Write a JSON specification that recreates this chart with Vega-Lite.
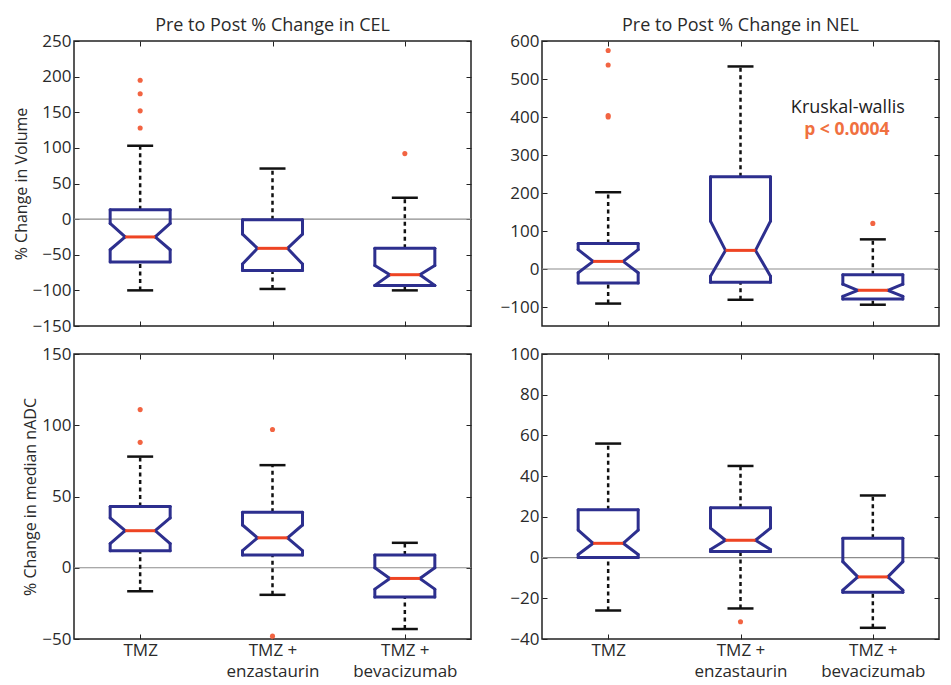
{
"$schema":"https://vega.github.io/schema/vega-lite/v6.json",
"background":"white",
"padding":{"left":12,"top":16,"right":5,"bottom":5},
"datasets":{
"boxes":[
{"p":"CEL vol","g":"TMZ","lo":-100,"q1":-60,"nlo":-43,"med":-25,"nhi":-6,"q3":13,"hi":103},
{"p":"CEL vol","g":"TMZ + enzastaurin","lo":-98,"q1":-72,"nlo":-63,"med":-41,"nhi":-21,"q3":-1,"hi":71},
{"p":"CEL vol","g":"TMZ + bevacizumab","lo":-100,"q1":-93,"nlo":-93,"med":-78,"nhi":-65,"q3":-41,"hi":30},
{"p":"NEL vol","g":"TMZ","lo":-91,"q1":-37,"nlo":-10,"med":20,"nhi":51,"q3":67,"hi":202},
{"p":"NEL vol","g":"TMZ + enzastaurin","lo":-81,"q1":-35,"nlo":-19,"med":49,"nhi":126,"q3":243,"hi":533},
{"p":"NEL vol","g":"TMZ + bevacizumab","lo":-94,"q1":-79,"nlo":-72,"med":-56,"nhi":-40,"q3":-15,"hi":78},
{"p":"CEL adc","g":"TMZ","lo":-16.5,"q1":12,"nlo":17,"med":26,"nhi":35,"q3":43,"hi":78},
{"p":"CEL adc","g":"TMZ + enzastaurin","lo":-19,"q1":9,"nlo":12,"med":21,"nhi":30,"q3":39,"hi":72},
{"p":"CEL adc","g":"TMZ + bevacizumab","lo":-43,"q1":-20.5,"nlo":-15,"med":-7.5,"nhi":0,"q3":9,"hi":17.5},
{"p":"NEL adc","g":"TMZ","lo":-26,"q1":0,"nlo":1.5,"med":7,"nhi":13.5,"q3":23.5,"hi":56},
{"p":"NEL adc","g":"TMZ + enzastaurin","lo":-25,"q1":3,"nlo":4,"med":8.5,"nhi":14.5,"q3":24.5,"hi":45},
{"p":"NEL adc","g":"TMZ + bevacizumab","lo":-34.5,"q1":-17,"nlo":-16,"med":-9.5,"nhi":-2,"q3":9.5,"hi":30.5}
],
"outliers":[
{"p":"CEL vol","g":"TMZ","v":195},{"p":"CEL vol","g":"TMZ","v":176},{"p":"CEL vol","g":"TMZ","v":152},{"p":"CEL vol","g":"TMZ","v":128},{"p":"CEL vol","g":"TMZ + bevacizumab","v":92},
{"p":"NEL vol","g":"TMZ","v":575},{"p":"NEL vol","g":"TMZ","v":537},{"p":"NEL vol","g":"TMZ","v":404},{"p":"NEL vol","g":"TMZ","v":400},{"p":"NEL vol","g":"TMZ + bevacizumab","v":120},
{"p":"CEL adc","g":"TMZ","v":111},{"p":"CEL adc","g":"TMZ","v":88},{"p":"CEL adc","g":"TMZ + enzastaurin","v":97},{"p":"CEL adc","g":"TMZ + enzastaurin","v":-48},
{"p":"NEL adc","g":"TMZ + enzastaurin","v":-31.5}
]
},
"bounds":"flush",
"columns":2,
"spacing":{"row":28,"column":71},
"concat":[
{"width":397,"height":285,"title":{"text":"Pre to Post % Change in CEL"},
"data":{"name":"boxes"},"transform":[{"filter":"datum.p == 'CEL vol'"}],
"resolve":{"axis":{"x":"independent","y":"independent"}},
"layer":[
{"transform":[{"aggregate":[{"op":"count","as":"n"}]}],"mark":{"type":"rule","color":"#8c8c8c","strokeWidth":1.2},"encoding":{"y":{"datum":0,"type":"quantitative","scale":{"domain":[-150,250],"nice":false,"zero":false},"axis":null}}},
{"mark":{"type":"rule","color":"#111111","strokeWidth":2.5,"strokeDash":[4,3.5]},"encoding":{"x":{"field":"g","type":"nominal","scale":{"type":"point","padding":0.5,"domain":["TMZ","TMZ + enzastaurin","TMZ + bevacizumab"]},"axis":{"orient":"bottom","title":null,"labels":false}},"y":{"field":"q3","type":"quantitative","scale":{"domain":[-150,250],"nice":false,"zero":false},"axis":{"orient":"left","title":"% Change in Volume","values":[-150,-100,-50,0,50,100,150,200,250]}},"y2":{"field":"hi"}}},
{"mark":{"type":"rule","color":"#111111","strokeWidth":2.5,"strokeDash":[4,3.5]},"encoding":{"x":{"field":"g","type":"nominal","scale":{"type":"point","padding":0.5,"domain":["TMZ","TMZ + enzastaurin","TMZ + bevacizumab"]},"axis":null},"y":{"field":"lo","type":"quantitative","scale":{"domain":[-150,250],"nice":false,"zero":false},"axis":null},"y2":{"field":"q1"}}},
{"transform":[{"fold":["lo","hi"],"as":["k","v"]}],"mark":{"type":"rule","color":"#111111","strokeWidth":2.5,"xOffset":-13,"x2Offset":13},"encoding":{"x":{"field":"g","type":"nominal","scale":{"type":"point","padding":0.5,"domain":["TMZ","TMZ + enzastaurin","TMZ + bevacizumab"]},"axis":{"orient":"top","title":null,"labels":false}},"x2":{"field":"g"},"y":{"field":"v","type":"quantitative","scale":{"domain":[-150,250],"nice":false,"zero":false},"axis":{"orient":"right","title":null,"labels":false,"values":[-150,-100,-50,0,50,100,150,200,250]}}}},
{"transform":[{"fold":["q1","q3"],"as":["k","v"]}],"mark":{"type":"rule","color":"#2d2f8e","strokeWidth":3,"strokeCap":"round","xOffset":-30,"x2Offset":30},"encoding":{"x":{"field":"g","type":"nominal","scale":{"type":"point","padding":0.5,"domain":["TMZ","TMZ + enzastaurin","TMZ + bevacizumab"]},"axis":null},"x2":{"field":"g"},"y":{"field":"v","type":"quantitative","scale":{"domain":[-150,250],"nice":false,"zero":false},"axis":null}}},
{"mark":{"type":"rule","color":"#2d2f8e","strokeWidth":3,"strokeCap":"round","xOffset":-30},"encoding":{"x":{"field":"g","type":"nominal","scale":{"type":"point","padding":0.5,"domain":["TMZ","TMZ + enzastaurin","TMZ + bevacizumab"]},"axis":null},"y":{"field":"q3","type":"quantitative","scale":{"domain":[-150,250],"nice":false,"zero":false},"axis":null},"y2":{"field":"nhi"}}},
{"mark":{"type":"rule","color":"#2d2f8e","strokeWidth":3,"strokeCap":"round","xOffset":30},"encoding":{"x":{"field":"g","type":"nominal","scale":{"type":"point","padding":0.5,"domain":["TMZ","TMZ + enzastaurin","TMZ + bevacizumab"]},"axis":null},"y":{"field":"q3","type":"quantitative","scale":{"domain":[-150,250],"nice":false,"zero":false},"axis":null},"y2":{"field":"nhi"}}},
{"mark":{"type":"rule","color":"#2d2f8e","strokeWidth":3,"strokeCap":"round","xOffset":-30},"encoding":{"x":{"field":"g","type":"nominal","scale":{"type":"point","padding":0.5,"domain":["TMZ","TMZ + enzastaurin","TMZ + bevacizumab"]},"axis":null},"y":{"field":"nlo","type":"quantitative","scale":{"domain":[-150,250],"nice":false,"zero":false},"axis":null},"y2":{"field":"q1"}}},
{"mark":{"type":"rule","color":"#2d2f8e","strokeWidth":3,"strokeCap":"round","xOffset":30},"encoding":{"x":{"field":"g","type":"nominal","scale":{"type":"point","padding":0.5,"domain":["TMZ","TMZ + enzastaurin","TMZ + bevacizumab"]},"axis":null},"y":{"field":"nlo","type":"quantitative","scale":{"domain":[-150,250],"nice":false,"zero":false},"axis":null},"y2":{"field":"q1"}}},
{"transform":[{"fold":["nhi","nlo"],"as":["k","v"]}],"mark":{"type":"rule","color":"#2d2f8e","strokeWidth":3,"strokeCap":"round","xOffset":-30,"x2Offset":-15},"encoding":{"x":{"field":"g","type":"nominal","scale":{"type":"point","padding":0.5,"domain":["TMZ","TMZ + enzastaurin","TMZ + bevacizumab"]},"axis":null},"x2":{"field":"g"},"y":{"field":"v","type":"quantitative","scale":{"domain":[-150,250],"nice":false,"zero":false},"axis":null},"y2":{"field":"med"}}},
{"transform":[{"fold":["nhi","nlo"],"as":["k","v"]}],"mark":{"type":"rule","color":"#2d2f8e","strokeWidth":3,"strokeCap":"round","xOffset":30,"x2Offset":15},"encoding":{"x":{"field":"g","type":"nominal","scale":{"type":"point","padding":0.5,"domain":["TMZ","TMZ + enzastaurin","TMZ + bevacizumab"]},"axis":null},"x2":{"field":"g"},"y":{"field":"v","type":"quantitative","scale":{"domain":[-150,250],"nice":false,"zero":false},"axis":null},"y2":{"field":"med"}}},
{"mark":{"type":"rule","color":"#ee4423","strokeWidth":3,"xOffset":-15,"x2Offset":15},"encoding":{"x":{"field":"g","type":"nominal","scale":{"type":"point","padding":0.5,"domain":["TMZ","TMZ + enzastaurin","TMZ + bevacizumab"]},"axis":null},"x2":{"field":"g"},"y":{"field":"med","type":"quantitative","scale":{"domain":[-150,250],"nice":false,"zero":false},"axis":null}}},
{"data":{"name":"outliers"},"transform":[{"filter":"datum.p == 'CEL vol'"}],"mark":{"type":"point","shape":"circle","filled":true,"size":26,"color":"#f26442","opacity":1},"encoding":{"x":{"field":"g","type":"nominal","scale":{"type":"point","padding":0.5,"domain":["TMZ","TMZ + enzastaurin","TMZ + bevacizumab"]},"axis":null},"y":{"field":"v","type":"quantitative","scale":{"domain":[-150,250],"nice":false,"zero":false},"axis":null}}}
]},
{"width":397,"height":285,"title":{"text":"Pre to Post % Change in NEL"},
"data":{"name":"boxes"},"transform":[{"filter":"datum.p == 'NEL vol'"}],
"resolve":{"axis":{"x":"independent","y":"independent"}},
"layer":[
{"transform":[{"aggregate":[{"op":"count","as":"n"}]}],"mark":{"type":"rule","color":"#8c8c8c","strokeWidth":1.2},"encoding":{"y":{"datum":0,"type":"quantitative","scale":{"domain":[-150,600],"nice":false,"zero":false},"axis":null}}},
{"mark":{"type":"rule","color":"#111111","strokeWidth":2.5,"strokeDash":[4,3.5]},"encoding":{"x":{"field":"g","type":"nominal","scale":{"type":"point","padding":0.5,"domain":["TMZ","TMZ + enzastaurin","TMZ + bevacizumab"]},"axis":{"orient":"bottom","title":null,"labels":false}},"y":{"field":"q3","type":"quantitative","scale":{"domain":[-150,600],"nice":false,"zero":false},"axis":{"orient":"left","title":null,"values":[-100,0,100,200,300,400,500,600]}},"y2":{"field":"hi"}}},
{"mark":{"type":"rule","color":"#111111","strokeWidth":2.5,"strokeDash":[4,3.5]},"encoding":{"x":{"field":"g","type":"nominal","scale":{"type":"point","padding":0.5,"domain":["TMZ","TMZ + enzastaurin","TMZ + bevacizumab"]},"axis":null},"y":{"field":"lo","type":"quantitative","scale":{"domain":[-150,600],"nice":false,"zero":false},"axis":null},"y2":{"field":"q1"}}},
{"transform":[{"fold":["lo","hi"],"as":["k","v"]}],"mark":{"type":"rule","color":"#111111","strokeWidth":2.5,"xOffset":-13,"x2Offset":13},"encoding":{"x":{"field":"g","type":"nominal","scale":{"type":"point","padding":0.5,"domain":["TMZ","TMZ + enzastaurin","TMZ + bevacizumab"]},"axis":{"orient":"top","title":null,"labels":false}},"x2":{"field":"g"},"y":{"field":"v","type":"quantitative","scale":{"domain":[-150,600],"nice":false,"zero":false},"axis":{"orient":"right","title":null,"labels":false,"values":[-100,0,100,200,300,400,500,600]}}}},
{"transform":[{"fold":["q1","q3"],"as":["k","v"]}],"mark":{"type":"rule","color":"#2d2f8e","strokeWidth":3,"strokeCap":"round","xOffset":-30,"x2Offset":30},"encoding":{"x":{"field":"g","type":"nominal","scale":{"type":"point","padding":0.5,"domain":["TMZ","TMZ + enzastaurin","TMZ + bevacizumab"]},"axis":null},"x2":{"field":"g"},"y":{"field":"v","type":"quantitative","scale":{"domain":[-150,600],"nice":false,"zero":false},"axis":null}}},
{"mark":{"type":"rule","color":"#2d2f8e","strokeWidth":3,"strokeCap":"round","xOffset":-30},"encoding":{"x":{"field":"g","type":"nominal","scale":{"type":"point","padding":0.5,"domain":["TMZ","TMZ + enzastaurin","TMZ + bevacizumab"]},"axis":null},"y":{"field":"q3","type":"quantitative","scale":{"domain":[-150,600],"nice":false,"zero":false},"axis":null},"y2":{"field":"nhi"}}},
{"mark":{"type":"rule","color":"#2d2f8e","strokeWidth":3,"strokeCap":"round","xOffset":30},"encoding":{"x":{"field":"g","type":"nominal","scale":{"type":"point","padding":0.5,"domain":["TMZ","TMZ + enzastaurin","TMZ + bevacizumab"]},"axis":null},"y":{"field":"q3","type":"quantitative","scale":{"domain":[-150,600],"nice":false,"zero":false},"axis":null},"y2":{"field":"nhi"}}},
{"mark":{"type":"rule","color":"#2d2f8e","strokeWidth":3,"strokeCap":"round","xOffset":-30},"encoding":{"x":{"field":"g","type":"nominal","scale":{"type":"point","padding":0.5,"domain":["TMZ","TMZ + enzastaurin","TMZ + bevacizumab"]},"axis":null},"y":{"field":"nlo","type":"quantitative","scale":{"domain":[-150,600],"nice":false,"zero":false},"axis":null},"y2":{"field":"q1"}}},
{"mark":{"type":"rule","color":"#2d2f8e","strokeWidth":3,"strokeCap":"round","xOffset":30},"encoding":{"x":{"field":"g","type":"nominal","scale":{"type":"point","padding":0.5,"domain":["TMZ","TMZ + enzastaurin","TMZ + bevacizumab"]},"axis":null},"y":{"field":"nlo","type":"quantitative","scale":{"domain":[-150,600],"nice":false,"zero":false},"axis":null},"y2":{"field":"q1"}}},
{"transform":[{"fold":["nhi","nlo"],"as":["k","v"]}],"mark":{"type":"rule","color":"#2d2f8e","strokeWidth":3,"strokeCap":"round","xOffset":-30,"x2Offset":-15},"encoding":{"x":{"field":"g","type":"nominal","scale":{"type":"point","padding":0.5,"domain":["TMZ","TMZ + enzastaurin","TMZ + bevacizumab"]},"axis":null},"x2":{"field":"g"},"y":{"field":"v","type":"quantitative","scale":{"domain":[-150,600],"nice":false,"zero":false},"axis":null},"y2":{"field":"med"}}},
{"transform":[{"fold":["nhi","nlo"],"as":["k","v"]}],"mark":{"type":"rule","color":"#2d2f8e","strokeWidth":3,"strokeCap":"round","xOffset":30,"x2Offset":15},"encoding":{"x":{"field":"g","type":"nominal","scale":{"type":"point","padding":0.5,"domain":["TMZ","TMZ + enzastaurin","TMZ + bevacizumab"]},"axis":null},"x2":{"field":"g"},"y":{"field":"v","type":"quantitative","scale":{"domain":[-150,600],"nice":false,"zero":false},"axis":null},"y2":{"field":"med"}}},
{"mark":{"type":"rule","color":"#ee4423","strokeWidth":3,"xOffset":-15,"x2Offset":15},"encoding":{"x":{"field":"g","type":"nominal","scale":{"type":"point","padding":0.5,"domain":["TMZ","TMZ + enzastaurin","TMZ + bevacizumab"]},"axis":null},"x2":{"field":"g"},"y":{"field":"med","type":"quantitative","scale":{"domain":[-150,600],"nice":false,"zero":false},"axis":null}}},
{"data":{"name":"outliers"},"transform":[{"filter":"datum.p == 'NEL vol'"}],"mark":{"type":"point","shape":"circle","filled":true,"size":26,"color":"#f26442","opacity":1},"encoding":{"x":{"field":"g","type":"nominal","scale":{"type":"point","padding":0.5,"domain":["TMZ","TMZ + enzastaurin","TMZ + bevacizumab"]},"axis":null},"y":{"field":"v","type":"quantitative","scale":{"domain":[-150,600],"nice":false,"zero":false},"axis":null}}},
{"transform":[{"aggregate":[{"op":"count","as":"n"}]}],"mark":{"type":"text","font":"Open Sans","fontSize":18,"color":"#222222","dx":-25},"encoding":{"x":{"datum":"TMZ + bevacizumab","type":"nominal","scale":{"type":"point","padding":0.5,"domain":["TMZ","TMZ + enzastaurin","TMZ + bevacizumab"]},"axis":null},"y":{"datum":423,"type":"quantitative","scale":{"domain":[-150,600],"nice":false,"zero":false},"axis":null},"text":{"value":"Kruskal-wallis"}}},
{"transform":[{"aggregate":[{"op":"count","as":"n"}]}],"mark":{"type":"text","font":"Open Sans","fontSize":17.5,"fontWeight":"bold","color":"#f0703f","dx":-26},"encoding":{"x":{"datum":"TMZ + bevacizumab","type":"nominal","scale":{"type":"point","padding":0.5,"domain":["TMZ","TMZ + enzastaurin","TMZ + bevacizumab"]},"axis":null},"y":{"datum":365,"type":"quantitative","scale":{"domain":[-150,600],"nice":false,"zero":false},"axis":null},"text":{"value":"p < 0.0004"}}}
]},
{"width":397,"height":285,
"data":{"name":"boxes"},"transform":[{"filter":"datum.p == 'CEL adc'"}],
"resolve":{"axis":{"x":"independent","y":"independent"}},
"layer":[
{"transform":[{"aggregate":[{"op":"count","as":"n"}]}],"mark":{"type":"rule","color":"#8c8c8c","strokeWidth":1.2},"encoding":{"y":{"datum":0,"type":"quantitative","scale":{"domain":[-50,150],"nice":false,"zero":false},"axis":null}}},
{"mark":{"type":"rule","color":"#111111","strokeWidth":2.5,"strokeDash":[4,3.5]},"encoding":{"x":{"field":"g","type":"nominal","scale":{"type":"point","padding":0.5,"domain":["TMZ","TMZ + enzastaurin","TMZ + bevacizumab"]},"axis":{"orient":"bottom","title":null,"labelAngle":0,"labelExpr":"datum.value == 'TMZ' ? 'TMZ' : ['TMZ +', slice(datum.value, 6)]"}},"y":{"field":"q3","type":"quantitative","scale":{"domain":[-50,150],"nice":false,"zero":false},"axis":{"orient":"left","title":"% Change in median nADC","values":[-50,0,50,100,150]}},"y2":{"field":"hi"}}},
{"mark":{"type":"rule","color":"#111111","strokeWidth":2.5,"strokeDash":[4,3.5]},"encoding":{"x":{"field":"g","type":"nominal","scale":{"type":"point","padding":0.5,"domain":["TMZ","TMZ + enzastaurin","TMZ + bevacizumab"]},"axis":null},"y":{"field":"lo","type":"quantitative","scale":{"domain":[-50,150],"nice":false,"zero":false},"axis":null},"y2":{"field":"q1"}}},
{"transform":[{"fold":["lo","hi"],"as":["k","v"]}],"mark":{"type":"rule","color":"#111111","strokeWidth":2.5,"xOffset":-13,"x2Offset":13},"encoding":{"x":{"field":"g","type":"nominal","scale":{"type":"point","padding":0.5,"domain":["TMZ","TMZ + enzastaurin","TMZ + bevacizumab"]},"axis":{"orient":"top","title":null,"labels":false}},"x2":{"field":"g"},"y":{"field":"v","type":"quantitative","scale":{"domain":[-50,150],"nice":false,"zero":false},"axis":{"orient":"right","title":null,"labels":false,"values":[-50,0,50,100,150]}}}},
{"transform":[{"fold":["q1","q3"],"as":["k","v"]}],"mark":{"type":"rule","color":"#2d2f8e","strokeWidth":3,"strokeCap":"round","xOffset":-30,"x2Offset":30},"encoding":{"x":{"field":"g","type":"nominal","scale":{"type":"point","padding":0.5,"domain":["TMZ","TMZ + enzastaurin","TMZ + bevacizumab"]},"axis":null},"x2":{"field":"g"},"y":{"field":"v","type":"quantitative","scale":{"domain":[-50,150],"nice":false,"zero":false},"axis":null}}},
{"mark":{"type":"rule","color":"#2d2f8e","strokeWidth":3,"strokeCap":"round","xOffset":-30},"encoding":{"x":{"field":"g","type":"nominal","scale":{"type":"point","padding":0.5,"domain":["TMZ","TMZ + enzastaurin","TMZ + bevacizumab"]},"axis":null},"y":{"field":"q3","type":"quantitative","scale":{"domain":[-50,150],"nice":false,"zero":false},"axis":null},"y2":{"field":"nhi"}}},
{"mark":{"type":"rule","color":"#2d2f8e","strokeWidth":3,"strokeCap":"round","xOffset":30},"encoding":{"x":{"field":"g","type":"nominal","scale":{"type":"point","padding":0.5,"domain":["TMZ","TMZ + enzastaurin","TMZ + bevacizumab"]},"axis":null},"y":{"field":"q3","type":"quantitative","scale":{"domain":[-50,150],"nice":false,"zero":false},"axis":null},"y2":{"field":"nhi"}}},
{"mark":{"type":"rule","color":"#2d2f8e","strokeWidth":3,"strokeCap":"round","xOffset":-30},"encoding":{"x":{"field":"g","type":"nominal","scale":{"type":"point","padding":0.5,"domain":["TMZ","TMZ + enzastaurin","TMZ + bevacizumab"]},"axis":null},"y":{"field":"nlo","type":"quantitative","scale":{"domain":[-50,150],"nice":false,"zero":false},"axis":null},"y2":{"field":"q1"}}},
{"mark":{"type":"rule","color":"#2d2f8e","strokeWidth":3,"strokeCap":"round","xOffset":30},"encoding":{"x":{"field":"g","type":"nominal","scale":{"type":"point","padding":0.5,"domain":["TMZ","TMZ + enzastaurin","TMZ + bevacizumab"]},"axis":null},"y":{"field":"nlo","type":"quantitative","scale":{"domain":[-50,150],"nice":false,"zero":false},"axis":null},"y2":{"field":"q1"}}},
{"transform":[{"fold":["nhi","nlo"],"as":["k","v"]}],"mark":{"type":"rule","color":"#2d2f8e","strokeWidth":3,"strokeCap":"round","xOffset":-30,"x2Offset":-15},"encoding":{"x":{"field":"g","type":"nominal","scale":{"type":"point","padding":0.5,"domain":["TMZ","TMZ + enzastaurin","TMZ + bevacizumab"]},"axis":null},"x2":{"field":"g"},"y":{"field":"v","type":"quantitative","scale":{"domain":[-50,150],"nice":false,"zero":false},"axis":null},"y2":{"field":"med"}}},
{"transform":[{"fold":["nhi","nlo"],"as":["k","v"]}],"mark":{"type":"rule","color":"#2d2f8e","strokeWidth":3,"strokeCap":"round","xOffset":30,"x2Offset":15},"encoding":{"x":{"field":"g","type":"nominal","scale":{"type":"point","padding":0.5,"domain":["TMZ","TMZ + enzastaurin","TMZ + bevacizumab"]},"axis":null},"x2":{"field":"g"},"y":{"field":"v","type":"quantitative","scale":{"domain":[-50,150],"nice":false,"zero":false},"axis":null},"y2":{"field":"med"}}},
{"mark":{"type":"rule","color":"#ee4423","strokeWidth":3,"xOffset":-15,"x2Offset":15},"encoding":{"x":{"field":"g","type":"nominal","scale":{"type":"point","padding":0.5,"domain":["TMZ","TMZ + enzastaurin","TMZ + bevacizumab"]},"axis":null},"x2":{"field":"g"},"y":{"field":"med","type":"quantitative","scale":{"domain":[-50,150],"nice":false,"zero":false},"axis":null}}},
{"data":{"name":"outliers"},"transform":[{"filter":"datum.p == 'CEL adc'"}],"mark":{"type":"point","shape":"circle","filled":true,"size":26,"color":"#f26442","opacity":1},"encoding":{"x":{"field":"g","type":"nominal","scale":{"type":"point","padding":0.5,"domain":["TMZ","TMZ + enzastaurin","TMZ + bevacizumab"]},"axis":null},"y":{"field":"v","type":"quantitative","scale":{"domain":[-50,150],"nice":false,"zero":false},"axis":null}}}
]},
{"width":397,"height":285,
"data":{"name":"boxes"},"transform":[{"filter":"datum.p == 'NEL adc'"}],
"resolve":{"axis":{"x":"independent","y":"independent"}},
"layer":[
{"transform":[{"aggregate":[{"op":"count","as":"n"}]}],"mark":{"type":"rule","color":"#8c8c8c","strokeWidth":1.2},"encoding":{"y":{"datum":0,"type":"quantitative","scale":{"domain":[-40,100],"nice":false,"zero":false},"axis":null}}},
{"mark":{"type":"rule","color":"#111111","strokeWidth":2.5,"strokeDash":[4,3.5]},"encoding":{"x":{"field":"g","type":"nominal","scale":{"type":"point","padding":0.5,"domain":["TMZ","TMZ + enzastaurin","TMZ + bevacizumab"]},"axis":{"orient":"bottom","title":null,"labelAngle":0,"labelExpr":"datum.value == 'TMZ' ? 'TMZ' : ['TMZ +', slice(datum.value, 6)]"}},"y":{"field":"q3","type":"quantitative","scale":{"domain":[-40,100],"nice":false,"zero":false},"axis":{"orient":"left","title":null,"values":[-40,-20,0,20,40,60,80,100]}},"y2":{"field":"hi"}}},
{"mark":{"type":"rule","color":"#111111","strokeWidth":2.5,"strokeDash":[4,3.5]},"encoding":{"x":{"field":"g","type":"nominal","scale":{"type":"point","padding":0.5,"domain":["TMZ","TMZ + enzastaurin","TMZ + bevacizumab"]},"axis":null},"y":{"field":"lo","type":"quantitative","scale":{"domain":[-40,100],"nice":false,"zero":false},"axis":null},"y2":{"field":"q1"}}},
{"transform":[{"fold":["lo","hi"],"as":["k","v"]}],"mark":{"type":"rule","color":"#111111","strokeWidth":2.5,"xOffset":-13,"x2Offset":13},"encoding":{"x":{"field":"g","type":"nominal","scale":{"type":"point","padding":0.5,"domain":["TMZ","TMZ + enzastaurin","TMZ + bevacizumab"]},"axis":{"orient":"top","title":null,"labels":false}},"x2":{"field":"g"},"y":{"field":"v","type":"quantitative","scale":{"domain":[-40,100],"nice":false,"zero":false},"axis":{"orient":"right","title":null,"labels":false,"values":[-40,-20,0,20,40,60,80,100]}}}},
{"transform":[{"fold":["q1","q3"],"as":["k","v"]}],"mark":{"type":"rule","color":"#2d2f8e","strokeWidth":3,"strokeCap":"round","xOffset":-30,"x2Offset":30},"encoding":{"x":{"field":"g","type":"nominal","scale":{"type":"point","padding":0.5,"domain":["TMZ","TMZ + enzastaurin","TMZ + bevacizumab"]},"axis":null},"x2":{"field":"g"},"y":{"field":"v","type":"quantitative","scale":{"domain":[-40,100],"nice":false,"zero":false},"axis":null}}},
{"mark":{"type":"rule","color":"#2d2f8e","strokeWidth":3,"strokeCap":"round","xOffset":-30},"encoding":{"x":{"field":"g","type":"nominal","scale":{"type":"point","padding":0.5,"domain":["TMZ","TMZ + enzastaurin","TMZ + bevacizumab"]},"axis":null},"y":{"field":"q3","type":"quantitative","scale":{"domain":[-40,100],"nice":false,"zero":false},"axis":null},"y2":{"field":"nhi"}}},
{"mark":{"type":"rule","color":"#2d2f8e","strokeWidth":3,"strokeCap":"round","xOffset":30},"encoding":{"x":{"field":"g","type":"nominal","scale":{"type":"point","padding":0.5,"domain":["TMZ","TMZ + enzastaurin","TMZ + bevacizumab"]},"axis":null},"y":{"field":"q3","type":"quantitative","scale":{"domain":[-40,100],"nice":false,"zero":false},"axis":null},"y2":{"field":"nhi"}}},
{"mark":{"type":"rule","color":"#2d2f8e","strokeWidth":3,"strokeCap":"round","xOffset":-30},"encoding":{"x":{"field":"g","type":"nominal","scale":{"type":"point","padding":0.5,"domain":["TMZ","TMZ + enzastaurin","TMZ + bevacizumab"]},"axis":null},"y":{"field":"nlo","type":"quantitative","scale":{"domain":[-40,100],"nice":false,"zero":false},"axis":null},"y2":{"field":"q1"}}},
{"mark":{"type":"rule","color":"#2d2f8e","strokeWidth":3,"strokeCap":"round","xOffset":30},"encoding":{"x":{"field":"g","type":"nominal","scale":{"type":"point","padding":0.5,"domain":["TMZ","TMZ + enzastaurin","TMZ + bevacizumab"]},"axis":null},"y":{"field":"nlo","type":"quantitative","scale":{"domain":[-40,100],"nice":false,"zero":false},"axis":null},"y2":{"field":"q1"}}},
{"transform":[{"fold":["nhi","nlo"],"as":["k","v"]}],"mark":{"type":"rule","color":"#2d2f8e","strokeWidth":3,"strokeCap":"round","xOffset":-30,"x2Offset":-15},"encoding":{"x":{"field":"g","type":"nominal","scale":{"type":"point","padding":0.5,"domain":["TMZ","TMZ + enzastaurin","TMZ + bevacizumab"]},"axis":null},"x2":{"field":"g"},"y":{"field":"v","type":"quantitative","scale":{"domain":[-40,100],"nice":false,"zero":false},"axis":null},"y2":{"field":"med"}}},
{"transform":[{"fold":["nhi","nlo"],"as":["k","v"]}],"mark":{"type":"rule","color":"#2d2f8e","strokeWidth":3,"strokeCap":"round","xOffset":30,"x2Offset":15},"encoding":{"x":{"field":"g","type":"nominal","scale":{"type":"point","padding":0.5,"domain":["TMZ","TMZ + enzastaurin","TMZ + bevacizumab"]},"axis":null},"x2":{"field":"g"},"y":{"field":"v","type":"quantitative","scale":{"domain":[-40,100],"nice":false,"zero":false},"axis":null},"y2":{"field":"med"}}},
{"mark":{"type":"rule","color":"#ee4423","strokeWidth":3,"xOffset":-15,"x2Offset":15},"encoding":{"x":{"field":"g","type":"nominal","scale":{"type":"point","padding":0.5,"domain":["TMZ","TMZ + enzastaurin","TMZ + bevacizumab"]},"axis":null},"x2":{"field":"g"},"y":{"field":"med","type":"quantitative","scale":{"domain":[-40,100],"nice":false,"zero":false},"axis":null}}},
{"data":{"name":"outliers"},"transform":[{"filter":"datum.p == 'NEL adc'"}],"mark":{"type":"point","shape":"circle","filled":true,"size":26,"color":"#f26442","opacity":1},"encoding":{"x":{"field":"g","type":"nominal","scale":{"type":"point","padding":0.5,"domain":["TMZ","TMZ + enzastaurin","TMZ + bevacizumab"]},"axis":null},"y":{"field":"v","type":"quantitative","scale":{"domain":[-40,100],"nice":false,"zero":false},"axis":null}}}
]}
],
"config":{
"view":{"stroke":"#222222","strokeWidth":1.5},
"axis":{"domain":false,"grid":false,"tickColor":"#222222","tickSize":-5,"tickWidth":1,"labelPadding":8,"labelFont":"Open Sans","labelFontSize":17,"labelColor":"#2a2a2a","labelLineHeight":21,"titleFont":"Open Sans","titleFontWeight":"normal","titleFontSize":16,"titleColor":"#2a2a2a","titlePadding":3},
"title":{"font":"Open Sans","fontSize":18,"fontWeight":"normal","color":"#2a2a2a","offset":-3}
}
}
